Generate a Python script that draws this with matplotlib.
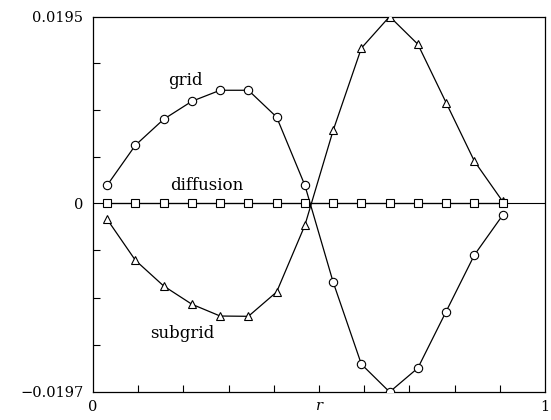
import numpy as np
import matplotlib
matplotlib.use('Agg')
import matplotlib.pyplot as plt

plt.rcParams['font.family'] = ['DejaVu Serif']
plt.rcParams['font.size'] = 10.5

# radial stations (cell centres, 16 cells, last one unused)
r = [(i + 0.5) / 16 for i in range(15)]

grid = [0.00188, 0.00606, 0.00877, 0.01065, 0.0118, 0.0118, 0.0090, 0.00188,
        -0.00822, -0.0168, -0.0197, -0.0172, -0.0113, -0.0054, -0.00125]
subgrid = [-0.00167, -0.00595, -0.00863, -0.01054, -0.01177, -0.0118, -0.00926,
           -0.0023, 0.0076, 0.0162, 0.0195, 0.0166, 0.0105, 0.0044, 0.0002]
diffusion = [0.0] * 15

ymin, ymax = -0.0197, 0.0195
ytick_labels = ['\u22120.0197', '0', '0.0195']

fig = plt.figure(figsize=(5.51, 4.2), dpi=100)
ax = fig.add_axes([0.1688, 0.0667, 0.8203, 0.894])

ax.axhline(0, color='black', lw=0.8, zorder=1)

mk = dict(color='black', lw=0.9, markersize=6.0, markerfacecolor='white',
          markeredgecolor='black', markeredgewidth=0.8, zorder=3)
ax.plot(r, grid, marker='o', **mk)
ax.plot(r, subgrid, marker='^', **mk)
ax.plot(r, diffusion, marker='s', **dict(mk, markersize=5.6))

ax.set_xlim(0, 1)
ax.set_ylim(ymin, ymax)

ax.set_xticks([0, 1])
ax.set_xticklabels(['0', '1'])
ax.set_xticks(np.arange(1, 10) / 10, minor=True)
ax.set_yticks([ymin, 0, ymax])
ax.set_yticklabels(ytick_labels)
ax.set_yticks([ymin * k / 4 for k in (1, 2, 3)] + [ymax * k / 4 for k in (1, 2, 3)],
              minor=True)

ax.tick_params(which='both', direction='in', length=5, width=0.8, color='black')
ax.tick_params(axis='x', which='major', length=0, pad=6)
ax.tick_params(axis='y', which='major', length=0, pad=7)
for s in ax.spines.values():
    s.set_linewidth(0.9)

ax.set_xlabel('r', style='italic')
ax.xaxis.set_label_coords(0.502, -0.018)

ax.text(0.2035, 0.0128, 'grid', ha='center', va='center', fontsize=12)
ax.text(0.252, 0.0019, 'diffusion', ha='center', va='center', fontsize=12)
ax.text(0.197, -0.01357, 'subgrid', ha='center', va='center', fontsize=12)

fig.savefig('out.png', dpi=100)
